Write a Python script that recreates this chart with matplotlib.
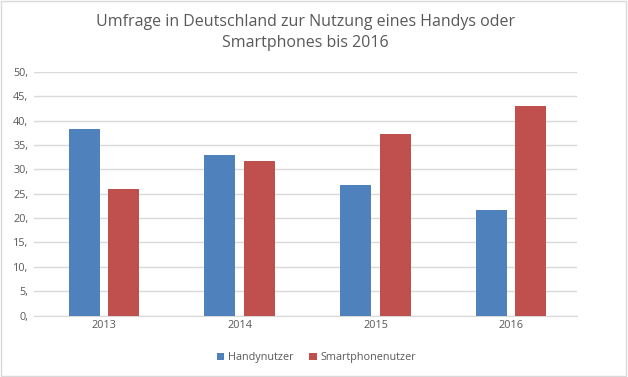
import matplotlib; matplotlib.use("Agg")
import matplotlib.pyplot as plt
import numpy as np
from matplotlib.patches import Rectangle

years = ["2013", "2014", "2015", "2016"]
handy = [38.4, 33.0, 26.9, 21.7]
smart = [26.0, 31.8, 37.3, 43.1]
yticks = [0, 5, 10, 15, 20, 25, 30, 35, 40, 45, 50]
ytick_labels = [f"{v}," for v in yticks]

plt.rcParams["font.family"] = ["Open Sans", "DejaVu Sans"]
fig = plt.figure(figsize=(6.28, 3.77), dpi=100)
ax = fig.add_axes([0.054, 0.163, 0.865, 0.646])
x = np.arange(len(years))
w = 0.228
ax.bar(x - 0.13, handy, w, color="#4F81BD", label="Handynutzer", zorder=3)
ax.bar(x + 0.16, smart, w, color="#C0504D", label="Smartphonenutzer", zorder=3)
ax.set_xlim(-0.5, 3.5); ax.set_ylim(0, 50)
ax.set_yticks(yticks); ax.set_yticklabels(ytick_labels)
ax.set_xticks(x + 0.015); ax.set_xticklabels(years)
ax.grid(axis="y", color="#D9D9D9", lw=1, zorder=0)
for s in ["top", "right", "left"]: ax.spines[s].set_visible(False)
ax.spines["bottom"].set_color("#D9D9D9")
ax.tick_params(length=0, colors="#595959", labelsize=7.8)
ax.tick_params(axis="y", pad=4)
ax.set_title("Umfrage in Deutschland zur Nutzung eines Handys oder\nSmartphones bis 2016",
             fontsize=11.5, color="#595959", pad=18, linespacing=1.4)
ax.legend(loc="upper center", bbox_to_anchor=(0.52, -0.11), ncol=2, frameon=False,
          fontsize=7.8, labelcolor="#595959", handlelength=0.7, handleheight=0.7,
          handletextpad=0.3, columnspacing=1.5)
fig.patches.append(Rectangle((0.002, 0.003), 0.995, 0.994, transform=fig.transFigure,
                             fill=False, edgecolor="#D9D9D9", lw=1))
fig.savefig("out.png", dpi=100)
